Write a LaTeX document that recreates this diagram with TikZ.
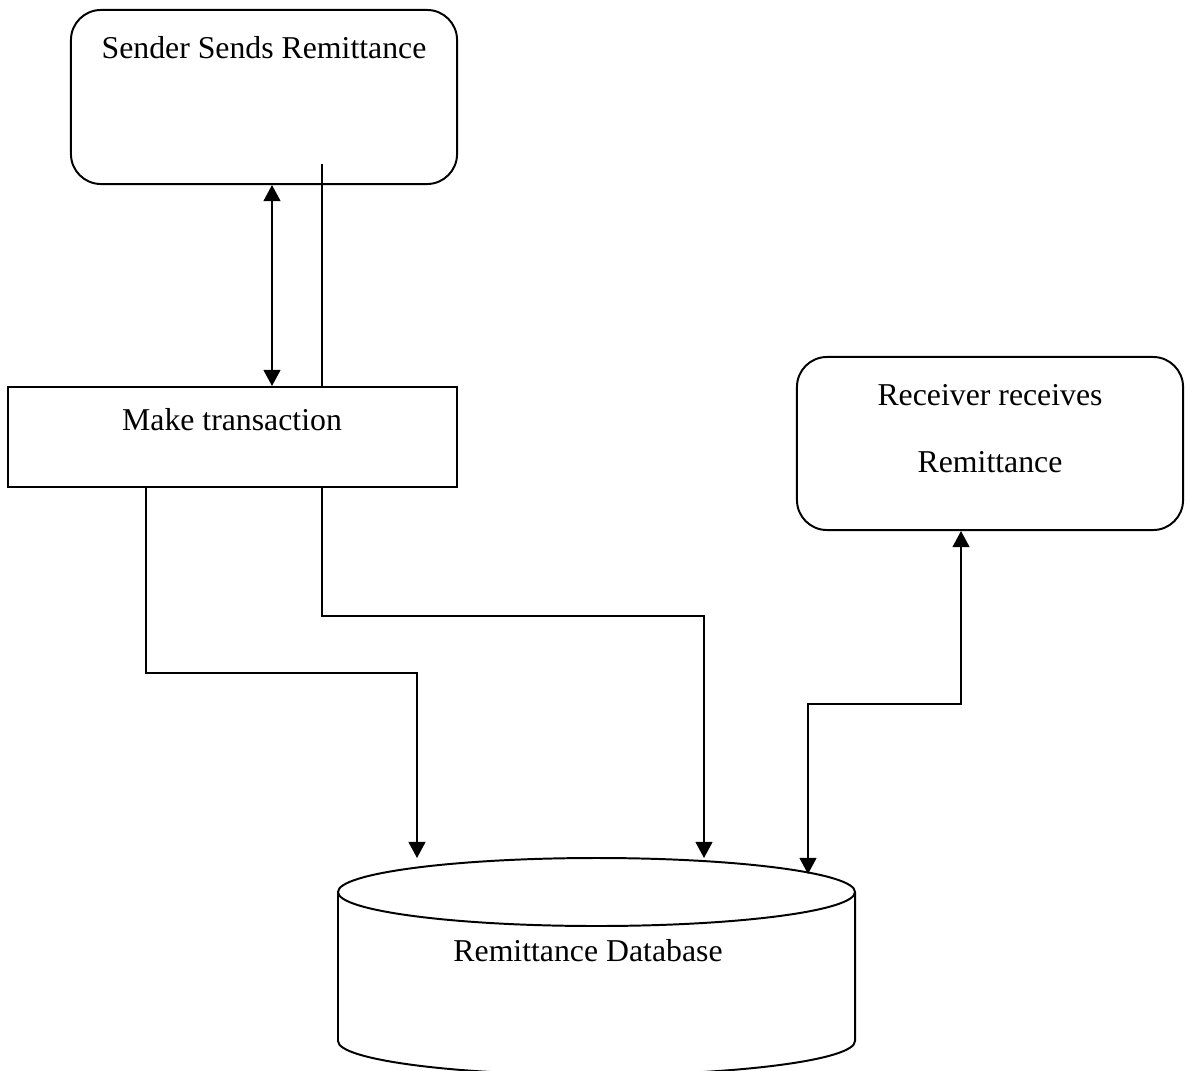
\documentclass[tikz,border=0pt]{standalone}
\usepackage{fontspec}
\setmainfont{Liberation Serif}
\usetikzlibrary{arrows.meta}
\begin{document}
\begin{tikzpicture}[x=0.025cm,y=-0.025cm,
  line width=1.4pt,
  tip/.style={-{Triangle[length=11.5pt,width=12pt]}},
  twotip/.style={{Triangle[length=11.5pt,width=12pt]}-{Triangle[length=11.5pt,width=12pt]}},
  roundbox/.style={draw,rounded corners=0.75cm,inner sep=0pt},
  sqbox/.style={draw,inner sep=0pt},
  txt/.style={anchor=base,inner sep=0pt,font=\fontsize{22.6}{27}\selectfont}]
\useasboundingbox (0,0) rectangle (1187,1070);

% boxes
\node[roundbox,minimum width=9.65cm,minimum height=4.35cm] (sender) at (264,97) {};
\node[sqbox,minimum width=11.225cm,minimum height=2.5cm] (trans) at (232.5,437) {};
\node[roundbox,minimum width=9.65cm,minimum height=4.325cm] (receiver) at (990,443.5) {};

% labels
\node[txt] (sendertxt) at (264,59) {Sender Sends Remittance};
\node[txt] (transtxt) at (232,430) {Make transaction};
\node[txt] (rectxta) at (990,405) {Receiver receives};
\node[txt] (rectxtb) at (990,472) {Remittance};

% database cylinder (its lower rim runs off the bottom edge)
\coordinate (dbc) at (596.5,892);
\draw (338,892) -- (338,1041) arc[start angle=180,end angle=360,x radius=258.5,y radius=-34] -- (855,892);
\draw (dbc) ellipse[x radius=258.5,y radius=34];
\node[txt] (dbtxt) at (588,961) {Remittance Database};

% connector columns
\coordinate (xa) at (272,0);
\coordinate (xb) at (322,0);
\coordinate (xc) at (146,0);
\coordinate (xd) at (961,0);
\coordinate (senderin) at (322,164);
\coordinate (dbin1) at (417,858);
\coordinate (dbin2) at (704,858);
\coordinate (dbin3) at (808,874);

% connectors
\draw[twotip] (xa |- sender.south) -- (xa |- trans.north);
\draw (senderin) -- (xb |- trans.north);
\draw[tip] (xc |- trans.south) |- (417,673) -- (dbin1);
\draw[tip] (xb |- trans.south) |- (704,616) -- (dbin2);
\draw[twotip] (dbin3) |- (961,704) -- (xd |- receiver.south);
\end{tikzpicture}
\end{document}
